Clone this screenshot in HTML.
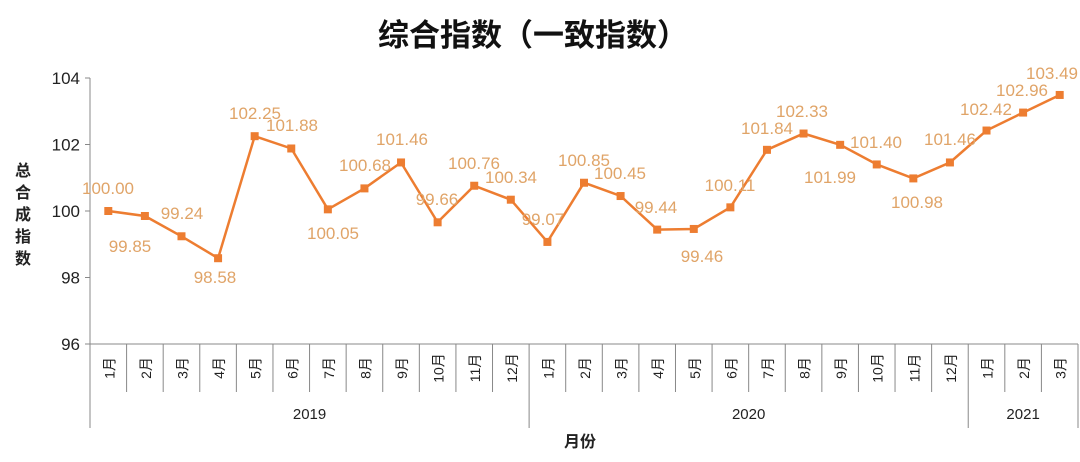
<!DOCTYPE html>
<html><head><meta charset="utf-8"><style>
body{margin:0;background:#fff;width:1080px;height:462px;overflow:hidden}
svg{display:block}
text{font-family:"Liberation Sans","Noto Sans CJK SC",sans-serif}
</style></head><body>
<svg id="s" width="1080" height="462" xmlns="http://www.w3.org/2000/svg">
<text x="533" y="46" text-anchor="middle" font-size="31" font-weight="bold" fill="#111" style="font-family:'Noto Sans CJK SC',sans-serif">综合指数（一致指数）</text>
<text x="23" y="214" text-anchor="middle" font-size="16" font-weight="bold" fill="#222" style="font-family:'Noto Sans CJK SC',sans-serif"><tspan x="23" y="176">总</tspan><tspan x="23" y="198">合</tspan><tspan x="23" y="220">成</tspan><tspan x="23" y="242">指</tspan><tspan x="23" y="264">数</tspan></text>
<text x="580" y="447" text-anchor="middle" font-size="16" font-weight="bold" fill="#222" style="font-family:'Noto Sans CJK SC',sans-serif">月份</text>
<g id="g"></g>
</svg>
<script>
var g=document.getElementById('g'),h='';
var X0=90,W=988/27,Y=function(v){return 211-(v-100)*33.25;};
var vals=[100.00,99.85,99.24,98.58,102.25,101.88,100.05,100.68,101.46,99.66,100.76,100.34,99.07,100.85,100.45,99.44,99.46,100.11,101.84,102.33,101.99,101.40,100.98,101.46,102.42,102.96,103.49];
var lab=[[108,188],[130,246],[182,213],[215,277],[255,113],[292,125],[333,233],[365,165],[402,139],[437,199],[474,163],[511,177],[543,219],[584,160],[620,173],[656,207],[702,256],[730,185],[767,128],[802,111],[830,177],[876,142],[917,202],[950,139],[986,109],[1022,90],[1052,73]];
[96,98,100,102,104].forEach(function(v){h+='<line x1="85" x2="90" y1="'+Y(v)+'" y2="'+Y(v)+'" stroke="#888"/><text x="80" y="'+(Y(v)+6)+'" text-anchor="end" font-size="17" fill="#222">'+v+'</text>';});
h+='<line x1="90" y1="78" x2="90" y2="428" stroke="#888"/><line x1="90" y1="344" x2="1078" y2="344" stroke="#888"/>';
for(var i=1;i<=27;i++){var x=X0+i*W;var yb=(i==12||i==24||i==27)?428:392;h+='<line x1="'+x+'" x2="'+x+'" y1="344" y2="'+yb+'" stroke="#888"/>';}
for(var i=0;i<27;i++){var m=(i%12)+1,cx=X0+(i+.5)*W;h+='<text transform="translate('+(cx+6)+',368) rotate(-90)" text-anchor="middle" font-size="14" fill="#222">'+m+'<tspan style="font-family:\'Noto Sans CJK SC\',sans-serif">月</tspan></text>';}
[['2019',X0+6*W],['2020',X0+18*W],['2021',X0+25.5*W]].forEach(function(a){h+='<text x="'+a[1]+'" y="419" text-anchor="middle" font-size="15" fill="#222">'+a[0]+'</text>';});
var p=vals.map(function(v,i){return (X0+(i+.5)*W).toFixed(1)+','+Y(v).toFixed(1);}).join(' ');
h+='<polyline points="'+p+'" fill="none" stroke="#ed7d31" stroke-width="2.5"/>';
vals.forEach(function(v,i){var x=X0+(i+.5)*W,y=Y(v);h+='<rect x="'+(x-4)+'" y="'+(y-4)+'" width="8" height="8" fill="#ed7d31"/>';});
vals.forEach(function(v,i){h+='<text x="'+lab[i][0]+'" y="'+(lab[i][1]+6)+'" text-anchor="middle" font-size="17" fill="#e0a468">'+v.toFixed(2)+'</text>';});
g.innerHTML=h;
</script>
</body></html>
